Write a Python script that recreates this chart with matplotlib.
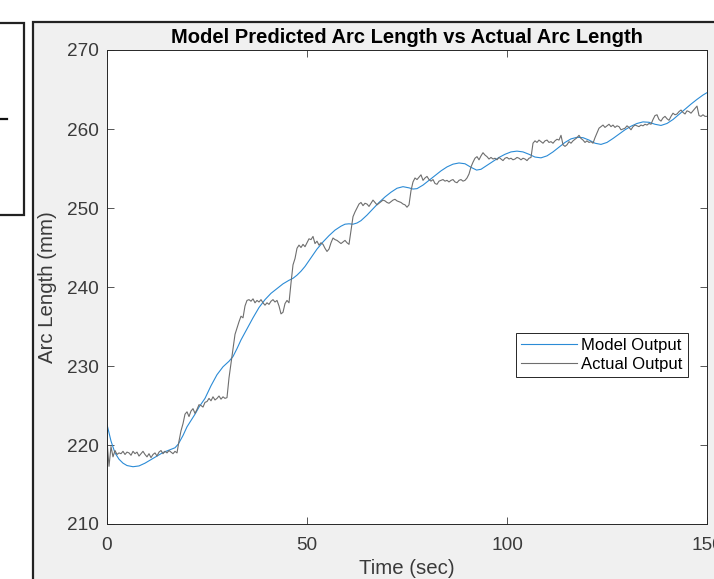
import numpy as np
import matplotlib
matplotlib.use('Agg')
import matplotlib.pyplot as plt
from matplotlib.patches import Rectangle
from matplotlib.lines import Line2D

plt.rcParams['font.family'] = ['Liberation Sans', 'DejaVu Sans']

# model output (smooth fit)
model_t = [0, 1, 2, 3, 4, 5, 6.5, 8, 9.5, 11, 12.5, 14, 15.5, 17, 17.8, 19, 20, 21, 22, 23,
           24.5, 26, 27.5, 29, 30.5, 31.5, 32.5, 33.5, 35, 36.5, 38, 39.5, 41, 42.5, 44,
           45.5, 46.5, 47.5, 48.5, 49.5, 51, 52.5, 54, 55.5, 57, 58.5, 59.5, 60.5, 61.5,
           62.5, 63.5, 65, 66.5, 68, 69.5, 71, 72.5, 74, 75.5, 76.5, 77.5, 79, 80.5, 82,
           83.5, 85, 86.5, 88, 89.5, 91, 92.4, 93.5, 95, 96.5, 98, 99.5, 101, 102.5, 104,
           105.5, 107, 108.5, 110, 111.5, 113, 114.5, 116, 117.5, 119, 120.5, 122, 123.5,
           125, 126.5, 128, 129.5, 131, 132.5, 134, 135.5, 137, 138.5, 140, 141.5, 143,
           144.5, 146, 147.5, 149, 150]
model_val = [222.6, 220.5, 219.0, 218.2, 217.7, 217.4, 217.25, 217.35, 217.7, 218.15, 218.6,
             219.05, 219.35, 219.65, 220.1, 221.2, 222.3, 223.1, 223.9, 224.8,
             225.9, 227.5, 228.9, 229.9, 230.6, 231.2, 232.2, 233.3, 234.7, 236.1, 237.4,
             238.4, 239.2, 239.8, 240.4, 240.85, 241.1, 241.5, 242.0, 242.6, 243.7, 244.8,
             245.7, 246.5, 247.2, 247.7, 247.95, 248.0, 247.95, 248.1, 248.4, 249.1, 249.9,
             250.7, 251.4, 252.0, 252.5, 252.7, 252.55, 252.4, 252.45, 252.9, 253.5, 254.1,
             254.7, 255.2, 255.55, 255.7, 255.6, 255.15, 254.8, 254.9, 255.4, 255.9, 256.4,
             256.8, 257.1, 257.2, 257.1, 256.8, 256.45, 256.35, 256.6, 257.1, 257.7, 258.3,
             258.75, 258.95, 258.9, 258.6, 258.2, 258.05, 258.3, 258.8, 259.35, 259.9,
             260.35, 260.7, 260.9, 260.85, 260.6, 260.45, 260.7, 261.2, 261.85, 262.5,
             263.15, 263.75, 264.3, 264.6]

# measured arc length, sampled every 0.5 s
actual_t = np.arange(0, 150.5, 0.5)
actual_val = [
    220.6, 217.3, 219.8, 218.5, 219.3, 218.8, 219.0, 218.9, 219.2, 218.8,
    219.1, 219.0, 218.7, 219.2, 218.9, 219.1, 218.6, 218.9, 219.2, 218.8,
    218.5, 218.9, 218.4, 218.8, 219.0, 218.6, 219.1, 219.3, 218.9, 219.2,
    219.0, 219.3, 219.1, 218.9, 219.2, 219.0, 220.5, 221.8, 222.7, 223.9,
    224.2, 223.6, 224.3, 224.6, 224.0, 224.5, 225.1, 225.0, 224.8, 225.4,
    225.5, 225.9, 225.6, 226.1, 225.7, 225.9, 226.2, 225.8, 226.1, 225.9,
    226.0, 228.5, 230.3, 232.0, 234.0, 234.8, 235.6, 236.3, 236.1, 237.6,
    238.3, 238.4, 238.2, 238.5, 238.0, 238.3, 238.1, 238.4, 238.0, 237.7,
    238.0, 237.8, 238.2, 238.4, 238.1, 238.3, 237.6, 236.6, 236.8, 237.9,
    238.3, 238.0, 240.5, 242.8, 243.6, 244.9, 245.3, 245.0, 245.4, 245.1,
    245.6, 246.1, 246.0, 246.4, 245.5, 245.8, 245.3, 245.6, 245.4, 244.9,
    244.5, 244.8, 245.6, 246.2, 246.0, 245.9, 245.7, 245.5, 245.7, 245.9,
    245.6, 245.4, 247.2, 248.9, 249.5, 250.0, 250.5, 250.7, 250.3, 250.6,
    250.5, 250.2, 250.6, 251.0, 250.7, 250.4, 250.6, 250.8, 251.0, 250.9,
    250.7, 250.6, 250.8, 251.0, 251.1, 250.9, 250.8, 250.7, 250.5, 250.4,
    250.1, 250.4, 252.2, 253.3, 253.8, 253.6, 253.9, 254.2, 253.5, 253.8,
    254.0, 253.6, 253.4, 253.6, 253.1, 253.0, 253.4, 253.5, 253.6, 253.4,
    253.5, 253.3, 253.5, 253.6, 253.3, 253.2, 253.5, 253.6, 253.4, 253.5,
    253.8, 254.3, 255.2, 255.8, 256.3, 256.5, 256.1, 256.6, 257.0, 256.7,
    256.5, 256.2, 256.4, 256.2, 256.3, 256.1, 256.4, 256.2, 256.0, 256.3,
    256.4, 256.2, 256.3, 256.1, 256.2, 256.4, 256.3, 256.1, 256.3, 256.2,
    256.0, 256.3, 256.4, 258.2, 258.5, 258.3, 258.6, 258.4, 258.2, 258.5,
    258.6, 258.3, 258.4, 258.2, 258.5, 258.7, 258.6, 259.2, 258.0, 257.8,
    258.0, 258.4, 258.2, 258.5, 258.7, 258.9, 259.2, 258.8, 258.6, 258.3,
    258.5, 258.3, 258.4, 258.2, 258.9, 259.5, 260.1, 260.3, 260.5, 260.2,
    260.4, 260.6, 260.3, 260.5, 260.2, 260.4, 260.3, 259.9, 260.0, 260.1,
    260.4, 260.2, 259.9, 260.3, 260.5, 260.4, 260.3, 260.5, 260.4, 260.6,
    260.5, 260.7, 260.6, 261.2, 261.7, 261.8, 261.2, 261.0, 261.4, 261.6,
    261.3, 261.1, 261.6, 262.0, 261.8, 261.9, 262.2, 262.4, 262.1, 261.9,
    262.3, 262.2, 262.0, 262.3, 262.6, 262.9, 261.7, 261.6, 261.8, 261.6,
    261.6]

xticks = [0, 50, 100, 150]
yticks = [210, 220, 230, 240, 250, 260, 270]

W, H = 714, 579
fig = plt.figure(figsize=(W / 100, H / 100), dpi=100, facecolor='white')


def px(x0, y0, x1, y1):
    # pixel box -> figure fraction (left, bottom, width, height)
    return (x0 / W, 1 - y1 / H, (x1 - x0) / W, (y1 - y0) / H)


# window panel and the bit of the neighbouring box on the left (behind the axes)
l, b, w, h = px(33, 22, 716, 582)
fig.add_artist(Rectangle((l, b), w, h, transform=fig.transFigure, zorder=-10,
                         facecolor='#f0f0f0', edgecolor='#222222', lw=1.6))
l, b, w, h = px(-5, 23, 24, 215)
fig.add_artist(Rectangle((l, b), w, h, transform=fig.transFigure, zorder=-10,
                         facecolor='white', edgecolor='#222222', lw=1.6))
fig.add_artist(Line2D([0, 7 / W], [1 - 118.5 / H] * 2, transform=fig.transFigure,
                      color='#111111', lw=1.6, zorder=-10))

ax = fig.add_axes(px(107, 50, 707, 524))
ax.set_zorder(5)
ax.set_facecolor('white')
ax.plot(model_t, model_val, color='#2b8bd6', lw=0.8, label='Model Output')
ax.plot(actual_t, actual_val, color='#6e6e6e', lw=0.8, label='Actual Output')

ax.set_xlim(0, 150)
ax.set_ylim(210, 270)
ax.set_xticks(xticks)
ax.set_yticks(yticks)
ax.tick_params(direction='in', length=5, width=0.6, colors='#3a3a3a',
               labelsize=13.7, top=True, right=True)
ax.tick_params(axis='x', pad=9)
ax.tick_params(axis='y', pad=6)
for s in ax.spines.values():
    s.set_color('#262626')
    s.set_linewidth(0.7)

ax.set_title('Model Predicted Arc Length vs Actual Arc Length',
             fontsize=14.5, fontweight='bold', color='black', pad=5)
ax.set_xlabel('Time (sec)', fontsize=14.7, color='#3a3a3a', labelpad=4)
ax.set_ylabel('Arc Length (mm)', fontsize=14.7, color='#3a3a3a', labelpad=7)

leg = ax.legend(loc='upper right', bbox_to_anchor=(0.968, 0.403), fontsize=12,
                frameon=True, fancybox=False, framealpha=1, handlelength=3.4,
                borderpad=0.3, labelspacing=0.25, handletextpad=0.25, borderaxespad=0)
leg.get_frame().set_edgecolor('#262626')
leg.get_frame().set_linewidth(0.7)

fig.savefig('out.png', dpi=100, facecolor=fig.get_facecolor())
